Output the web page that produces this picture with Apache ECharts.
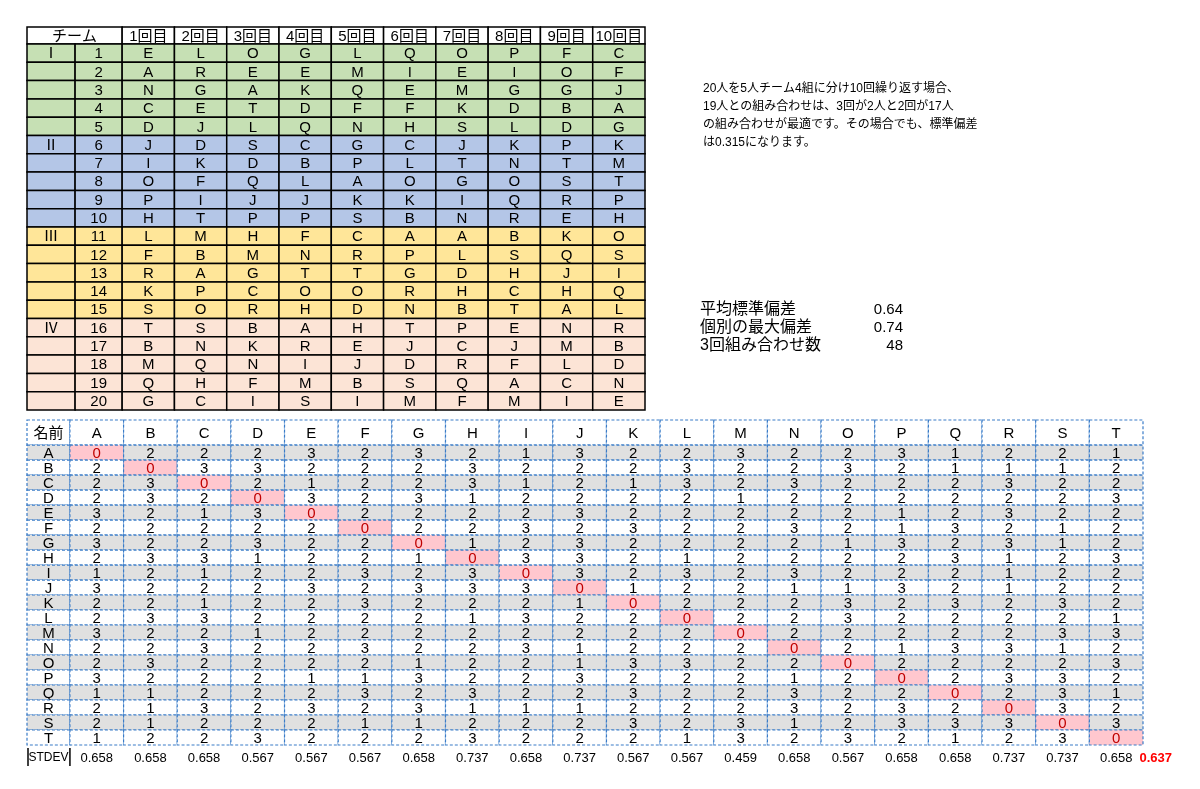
<!DOCTYPE html>
<html><head><meta charset="utf-8">
<script src="https://cdn.jsdelivr.net/npm/echarts@6/dist/echarts.min.js"></script>
<style>html,body{margin:0;padding:0;background:#fff}#c{width:1200px;height:789px}</style>
</head><body><div id="c"></div>
<script>
// ---- data ----
const roundHeaders = ['1回目','2回目','3回目','4回目','5回目','6回目','7回目','8回目','9回目','10回目'];
const teamNames = ['Ⅰ','Ⅱ','Ⅲ','Ⅳ'];
const assignRows = ['ELOGLQOPFC','AREEMIEIOF','NGAKQEMGGJ','CETDFFKDBA','DJLQNHSLDG',
 'JDSCGCJKPK','IKDBPLTNTM','OFQLAOGOST','PIJJKKIQRP','HTPPSBNREH',
 'LMHFCAABKO','FBMNRPLSQS','RAGTTGDHJI','KPCOORHCHQ','SORHDNBTAL',
 'TSBAHTPENR','BNKREJCJMB','MQNIJDRFLD','QHFMBSQACN','GCISIMFMIE'];
const names = 'ABCDEFGHIJKLMNOPQRST'.split('');
const pairCounts = [
 [0,2,2,2,3,2,3,2,1,3, 2,2,3,2,2,3,1,2,2,1],
 [2,0,3,3,2,2,2,3,2,2, 2,3,2,2,3,2,1,1,1,2],
 [2,3,0,2,1,2,2,3,1,2, 1,3,2,3,2,2,2,3,2,2],
 [2,3,2,0,3,2,3,1,2,2, 2,2,1,2,2,2,2,2,2,3],
 [3,2,1,3,0,2,2,2,2,3, 2,2,2,2,2,1,2,3,2,2],
 [2,2,2,2,2,0,2,2,3,2, 3,2,2,3,2,1,3,2,1,2],
 [3,2,2,3,2,2,0,1,2,3, 2,2,2,2,1,3,2,3,1,2],
 [2,3,3,1,2,2,1,0,3,3, 2,1,2,2,2,2,3,1,2,3],
 [1,2,1,2,2,3,2,3,0,3, 2,3,2,3,2,2,2,1,2,2],
 [3,2,2,2,3,2,3,3,3,0, 1,2,2,1,1,3,2,1,2,2],
 [2,2,1,2,2,3,2,2,2,1, 0,2,2,2,3,2,3,2,3,2],
 [2,3,3,2,2,2,2,1,3,2, 2,0,2,2,3,2,2,2,2,1],
 [3,2,2,1,2,2,2,2,2,2, 2,2,0,2,2,2,2,2,3,3],
 [2,2,3,2,2,3,2,2,3,1, 2,2,2,0,2,1,3,3,1,2],
 [2,3,2,2,2,2,1,2,2,1, 3,3,2,2,0,2,2,2,2,3],
 [3,2,2,2,1,1,3,2,2,3, 2,2,2,1,2,0,2,3,3,2],
 [1,1,2,2,2,3,2,3,2,2, 3,2,2,3,2,2,0,2,3,1],
 [2,1,3,2,3,2,3,1,1,1, 2,2,2,3,2,3,2,0,3,2],
 [2,1,2,2,2,1,1,2,2,2, 3,2,3,1,2,3,3,3,0,3],
 [1,2,2,3,2,2,2,3,2,2, 2,1,3,2,3,2,1,2,3,0]];
const stdevs = ['0.658','0.658','0.658','0.567','0.567','0.567','0.658','0.737','0.658','0.737',
 '0.567','0.567','0.459','0.658','0.567','0.658','0.658','0.737','0.737','0.658'];
const overallStdev = '0.637';
const statLabels = ['平均標準偏差','個別の最大偏差','3回組み合わせ数'];
const statValues = ['0.64','0.74','48'];
const noteLines = ['20人を5人チーム4組に分け10回繰り返す場合、','19人との組み合わせは、3回が2人と2回が17人','の組み合わせが最適です。その場合でも、標準偏差','は0.315になります。'];

// ---- build cells ----
const teamColors = ['#c6e0b4','#b4c6e7','#ffe699','#fce4d6'];
const topCells = [], topStyle = [];
function addTop(x0,x1,y0,y1,text,fill){ topCells.push([x0,x1,y0,y1]); topStyle.push({text,fill}); }
addTop(-1.82,0,-0.93,0,'チーム','#fff');
roundHeaders.forEach((h,i)=>addTop(i,i+1,-0.93,0,h,'#fff'));
assignRows.forEach((row,r)=>{
  const fill = teamColors[Math.floor(r/5)];
  addTop(-1.82,-0.9,r,r+1, r%5===0?teamNames[r/5]:'', fill);
  addTop(-0.9,0,r,r+1,String(r+1),fill);
  row.split('').forEach((ch,c)=>addTop(c,c+1,r,r+1,ch,fill));
});
const botCells = [], botStyle = [];
function addBot(x0,x1,y0,y1,o){ botCells.push([x0,x1,y0,y1]); botStyle.push(o); }
addBot(-0.8,0,-1.67,0,{text:'名前',fill:'#fff',size:15});
names.forEach((n,i)=>addBot(i,i+1,-1.67,0,{text:n,fill:'#fff',size:15}));
pairCounts.forEach((row,r)=>{
  const bg = r%2===0 ? '#e0e0e0' : '#fff';
  addBot(-0.8,0,r,r+1,{text:names[r],fill:bg,size:15});
  row.forEach((v,c)=>addBot(c,c+1,r,r+1, r===c?{text:String(v),fill:'#ffc7ce',color:'#c00000',size:15}:{text:String(v),fill:bg,size:15}));
});
addBot(-0.8,0,20.2,21.4,{text:'STDEV',fill:null,size:12,noBorder:true,sides:true});
stdevs.forEach((s,i)=>addBot(i,i+1,20.2,21.4,{text:s,fill:null,size:13,noBorder:true}));
addBot(20,20.95,20.2,21.4,{text:overallStdev,fill:null,size:13,noBorder:true,color:'#ff0000',bold:true,shift:-0.25});

const FONT = '"Liberation Sans", "Noto Sans CJK JP", sans-serif';
function mkRender(styles, kind){
  return function(params, api){
    const p0 = api.coord([api.value(0), api.value(2)]);
    const p1 = api.coord([api.value(1), api.value(3)]);
    const s = styles[params.dataIndex];
    const x=p0[0], y=p0[1], w=p1[0]-p0[0], h=p1[1]-p0[1];
    const ch = [];
    if (kind==='top') {
      ch.push({type:'rect',shape:{x,y,width:w,height:h},style:{fill:s.fill,stroke:'#000',lineWidth:1.5}});
      ch.push({type:'text',style:{x:x+w/2,y:y+h/2+1,text:s.text,align:'center',verticalAlign:'middle',font:'15px '+FONT,fill:'#000'}});
    } else {
      if (!s.noBorder) ch.push({type:'rect',shape:{x,y,width:w,height:h},style:{fill:s.fill,stroke:'#3a7cc8',lineWidth:1.2,lineDash:[3,2]}});
      if (s.sides) {
        ch.push({type:'line',shape:{x1:x+1,y1:y,x2:x+1,y2:y+h},style:{stroke:'#000',lineWidth:1.5}});
        ch.push({type:'line',shape:{x1:x+w,y1:y,x2:x+w,y2:y+h},style:{stroke:'#000',lineWidth:1.5}});
      }
      const cx = x + w/2 + (s.shift||0)*w;
      ch.push({type:'text',style:{x:cx,y:y+h/2+1,text:s.text,align:'center',verticalAlign:'middle',font:(s.bold?'bold ':'')+s.size+'px '+FONT,fill:s.color||'#000'}});
    }
    return {type:'group',children:ch};
  };
}

const chart = echarts.init(document.getElementById('c'));
chart.setOption({
  animation:false,
  grid:[{left:27,top:27,width:618,height:383},{left:27,top:420,width:1116,height:325}],
  xAxis:[{type:'value',gridIndex:0,min:-1.82,max:10,show:false},{type:'value',gridIndex:1,min:-0.8,max:20,show:false}],
  yAxis:[{type:'value',gridIndex:0,min:-0.93,max:20,inverse:true,show:false},{type:'value',gridIndex:1,min:-1.67,max:20,inverse:true,show:false}],
  series:[
    {type:'custom',xAxisIndex:0,yAxisIndex:0,clip:false,renderItem:mkRender(topStyle,'top'),data:topCells,encode:{x:[0,1],y:[2,3]}},
    {type:'custom',xAxisIndex:1,yAxisIndex:1,clip:false,renderItem:mkRender(botStyle,'bot'),data:botCells,encode:{x:[0,1],y:[2,3]}}
  ],
  graphic:[
    ...noteLines.map((t,i)=>({type:'text',left:703,top:83+i*18,style:{text:t,font:'12px '+FONT,fill:'#000'}})),
    ...statLabels.map((t,i)=>({type:'text',left:700,top:302+i*18,style:{text:t,font:'16px '+FONT,fill:'#000'}})),
    ...statValues.map((t,i)=>({type:'text',right:1200-903,top:302+i*18,style:{text:t,font:'15px '+FONT,fill:'#000',align:'right'}}))
  ]
});
</script></body></html>
